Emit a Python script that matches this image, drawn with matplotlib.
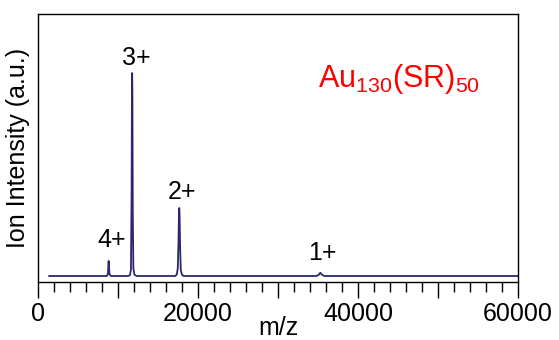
import matplotlib
matplotlib.use("Agg")
import matplotlib.pyplot as plt
from matplotlib.ticker import MultipleLocator, FuncFormatter

plt.rcParams['font.family'] = ['Liberation Sans', 'DejaVu Sans']
plt.rcParams['mathtext.fontset'] = 'custom'
plt.rcParams['mathtext.rm'] = 'Liberation Sans'
plt.rcParams['mathtext.it'] = 'Liberation Sans'
plt.rcParams['mathtext.default'] = 'regular'

# spectrum points (m/z, intensity, 3+ peak = 100)
mz = [1400, 8600, 8740, 8800, 8830, 8870, 8930, 9100,
      11300, 11500, 11620, 11700, 11750, 11770, 11800, 11850, 11920, 12050, 12300,
      17150, 17350, 17480, 17570, 17630, 17660, 17700, 17760, 17850, 18000, 18200,
      34800, 35100, 35300, 35500, 35800, 60000]
intensity = [0, 0, 1, 5.5, 7.4, 5, 1, 0,
             0, 0.5, 3, 40, 97, 100, 90, 30, 4, 0.7, 0,
             0, 0.7, 4, 18, 32, 33.5, 30, 15, 3, 0.6, 0,
             0, 0.6, 1.6, 0.6, 0, 0]

# charge state labels
charge_labels = ["4+", "3+", "2+", "1+"]
label_x = [9250, 12250, 18000, 35500]
label_y = [17.7, 107.4, 41.4, 11.3]

fig = plt.figure(figsize=(5.59, 3.40), dpi=100)
ax = fig.add_axes([0.068, 0.1706, 0.8585, 0.7882])

ax.plot(mz, intensity, color='#2a2670', lw=1.3)

for lab, x, y in zip(charge_labels, label_x, label_y):
    ax.text(x, y, lab, fontsize=18, ha='center', va='center')

ax.text(45100, 97, r'Au$_{130}$(SR)$_{50}$', color='#ff0000', fontsize=22,
        ha='center', va='center')

ax.set_xlim(0, 60000)
ax.set_ylim(-2.96, 129.1)

ax.xaxis.set_major_locator(MultipleLocator(10000))
ax.xaxis.set_minor_locator(MultipleLocator(2000))
ax.xaxis.set_major_formatter(FuncFormatter(
    lambda v, p: "%d" % v if int(round(v)) % 20000 == 0 else ""))
ax.tick_params(axis='x', which='major', direction='out', length=11.5, width=1,
               labelsize=18, pad=3)
ax.tick_params(axis='x', which='minor', direction='out', length=7, width=1)
ax.set_yticks([])

for s in ax.spines.values():
    s.set_linewidth(1.0)

ax.set_xlabel("m/z", fontsize=18, labelpad=-7)
ax.set_ylabel("Ion Intensity (a.u.)", fontsize=18, labelpad=6)

fig.savefig("out.png", dpi=100)
